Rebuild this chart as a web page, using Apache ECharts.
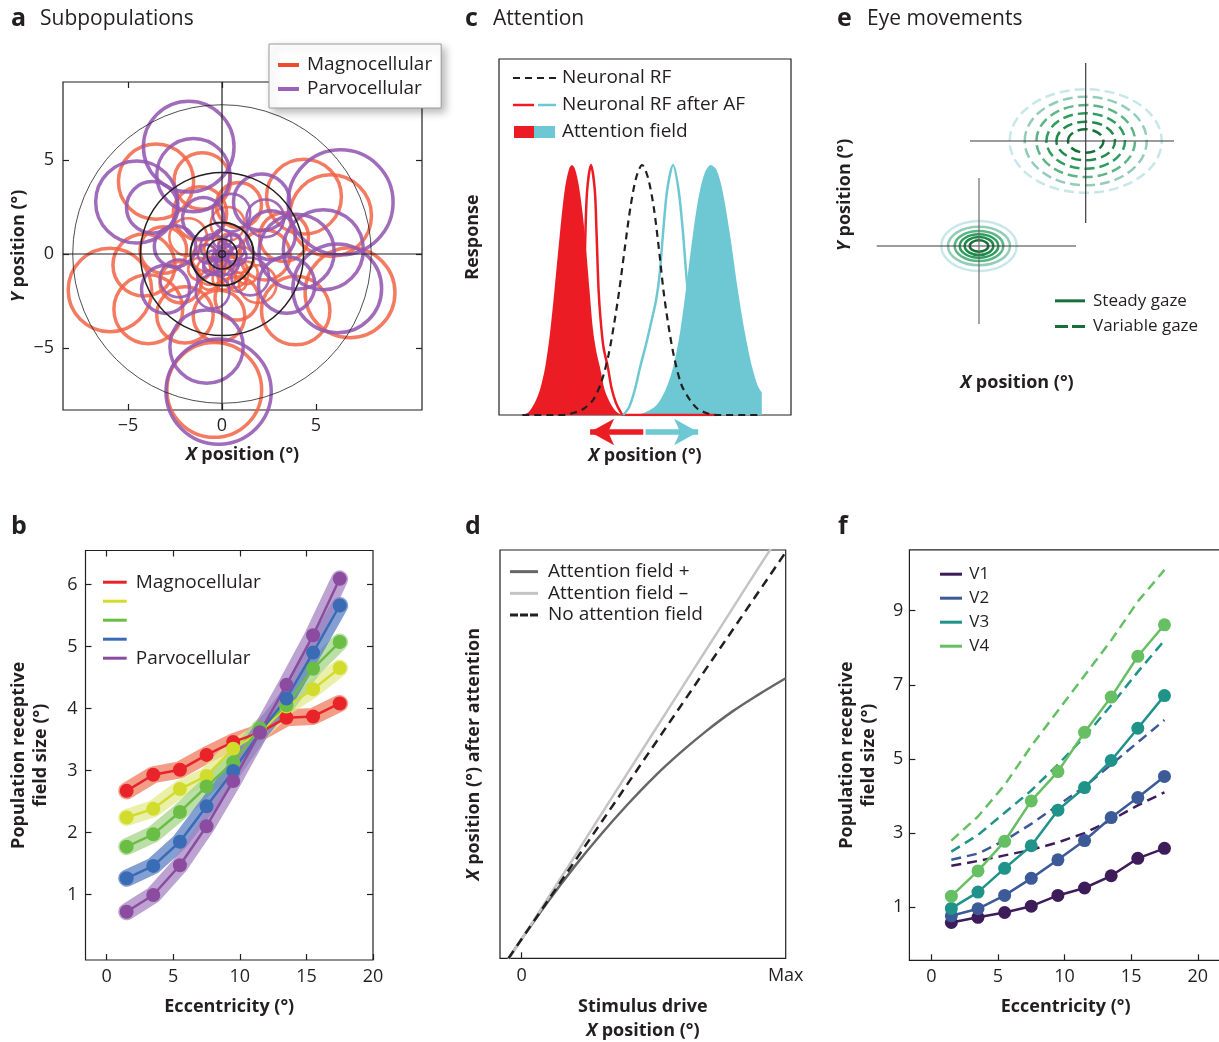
<!DOCTYPE html>
<html><head><meta charset="utf-8">
<script src="https://cdn.jsdelivr.net/npm/echarts@6.0.0/dist/echarts.min.js"></script>
<style>html,body{margin:0;padding:0;background:#fff}#chart{width:1219px;height:1042px}</style>
</head><body><div id="chart"></div>
<script>
// ================= DATA =================
// Panel a: receptive fields [x (deg), y (deg), radius (deg)]
const magnoCircles = [
  [-5.96,-1.91,2.22],[-3.92,-2.94,1.83],[-3.51,3.85,2.0],[-4.15,-0.59,1.65],[-1.05,3.88,1.5],
  [4.36,3.05,1.99],[5.78,2.04,2.17],[6.81,-2.06,2.39],[3.92,-3.01,1.82],[-0.41,-7.23,2.52],
  [-1.97,-3.24,1.5],[-0.16,-3.3,1.37],[0.78,-2.36,1.15],[-1.17,2.16,1.42],[2.29,-0.05,1.33],
  [-3.12,0.21,1.24],[3.3,0.9,1.3],[0.9,2.6,1.2],[-2.2,-1.5,1.1],[1.9,-1.6,1.0],[-1.8,0.9,1.0],
  [0.3,1.6,0.9],[0.6,-1.0,0.8],[-0.6,-0.9,0.75],[1.0,-0.3,0.7],[-0.9,-0.2,0.7],[0.1,-1.3,0.6],
  [0.4,0.5,0.6],[-0.4,0.3,0.55],[0.8,-1.5,0.5],[-0.2,-0.6,0.45],[0.3,-0.4,0.4],[-0.7,-1.4,0.5],
  [1.3,-1.0,0.6],[0.0,0.0,0.35],[-1.2,-0.8,0.6]
];
const parvoCircles = [
  [-1.77,5.71,2.41],[-4.54,2.77,2.18],[-3.71,2.48,1.37],[-1.52,4.2,1.95],[6.31,2.75,2.79],
  [5.39,0.23,2.13],[6.13,-1.83,2.36],[3.44,-1.65,1.5],[-0.18,-7.32,2.8],[-0.82,-4.93,1.95],
  [-3.0,-1.88,1.28],[-2.3,-1.3,1.0],[2.11,2.75,1.5],[3.97,0.12,2.0],[2.6,1.0,1.3],[-2.5,0.4,1.1],
  [0.5,2.2,1.0],[-1.0,1.9,1.1],[1.5,-1.2,1.0],[-0.5,-2.0,0.9],[2.3,1.9,1.0],
  [0.5,0.3,0.7],[-0.5,0.4,0.65],[0.3,-0.5,0.6],[-0.4,-0.4,0.6],[0.8,-0.1,0.5],[-0.8,0.0,0.5],
  [0.0,0.8,0.5],[0.0,-0.7,0.45],[0.2,0.2,0.35],[-0.2,-0.1,0.3],[0.6,0.7,0.4],[-0.6,-0.7,0.4]
];
const eccRings = [0.18, 0.8, 1.68, 4.34, 7.94];
const aTicks = [-5, 0, 5];

// Panel b / f: eccentricity bins
const eccentricity = [1.5, 3.5, 5.5, 7.5, 9.5, 11.5, 13.5, 15.5, 17.5];
const bMagno = [2.67, 2.93, 3.01, 3.25, 3.46, 3.61, 3.85, 3.87, 4.08];
const bMix1  = [2.24, 2.38, 2.70, 2.91, 3.35, 3.61, 4.03, 4.31, 4.65];
const bMix2  = [1.77, 1.97, 2.33, 2.74, 3.13, 3.68, 4.05, 4.64, 5.07];
const bMix3  = [1.26, 1.46, 1.85, 2.42, 2.99, 3.61, 4.16, 4.90, 5.66];
const bParvo = [0.72, 0.99, 1.47, 2.10, 2.83, 3.61, 4.38, 5.18, 6.09];
const bXTicks = [0, 5, 10, 15, 20];
const bYTicks = [1, 2, 3, 4, 5, 6];

const fV1 = [0.59, 0.73, 0.86, 1.03, 1.32, 1.52, 1.85, 2.32, 2.59];
const fV2 = [0.77, 0.96, 1.32, 1.78, 2.28, 2.80, 3.42, 3.96, 4.53];
const fV3 = [0.97, 1.41, 2.05, 2.66, 3.62, 4.23, 4.96, 5.83, 6.71];
const fV4 = [1.30, 1.98, 2.78, 3.87, 4.66, 5.72, 6.67, 7.77, 8.62];
const fV1var = [2.12, 2.25, 2.40, 2.55, 2.75, 3.00, 3.35, 3.75, 4.10];
const fV2var = [2.28, 2.45, 2.80, 3.25, 3.75, 4.25, 4.85, 5.45, 6.05];
const fV3var = [2.50, 2.95, 3.55, 4.15, 4.85, 5.60, 6.45, 7.35, 8.20];
const fV4var = [2.80, 3.45, 4.30, 5.35, 6.30, 7.25, 8.20, 9.25, 10.10];
const fYTicks = [1, 3, 5, 7, 9];

// Panel c: response profiles [x position (a.u.), response]
const cRedField = [[7.5,0],[10,0.01],[12.3,0.05],[14,0.1],[15.8,0.19],[17.5,0.33],[19,0.5],[20.9,0.73],[22.5,0.9],[24,0.985],[25,1.0],[26,0.985],[27.3,0.92],[28.7,0.8],[30,0.64],[31,0.5],[32.2,0.34],[33.4,0.25],[34.6,0.19],[36.2,0.1],[38,0.05],[40,0.015],[42,0]];
const cCyanField = [[46,0],[50,0.01],[54,0.04],[57,0.1],[59.6,0.19],[62,0.33],[64,0.5],[66.5,0.73],[68.5,0.88],[70.5,0.97],[72.5,1.0],[74.5,0.98],[76.5,0.9],[79,0.73],[81.8,0.5],[84.2,0.33],[86.5,0.2],[88.5,0.12],[90,0.09]];
const cRedRF = [[20,0],[23,0.02],[25,0.06],[26.5,0.12],[27.5,0.22],[28.3,0.34],[29.1,0.5],[29.6,0.73],[30.2,0.9],[31.5,1.0],[32.8,0.9],[33.4,0.73],[34.1,0.5],[34.8,0.38],[35.8,0.27],[37.3,0.19],[38.5,0.11],[40,0.05],[41.5,0.015],[42.5,0],[75,0]];
const cCyanRF = [[42.5,0],[44.5,0.03],[46.5,0.1],[48.3,0.19],[50.3,0.28],[52.3,0.38],[53.8,0.46],[55,0.56],[56.2,0.73],[57.6,0.9],[59.6,1.0],[61.5,0.9],[63,0.73],[64.3,0.54],[65.5,0.42],[67,0.3],[69,0.18],[71.5,0.08],[74,0.02],[76,0]];
const cNeuronalRF = [[8,0],[22,0],[26,0.01],[29,0.025],[32.2,0.06],[35,0.13],[37.5,0.24],[39.5,0.37],[41.2,0.5],[43,0.66],[45,0.83],[47,0.95],[49,1.0],[51,0.95],[53,0.83],[55,0.64],[56.3,0.5],[58,0.36],[60,0.23],[62.5,0.12],[65.4,0.06],[68,0.025],[71,0.008],[74,0],[90,0]];
// attention-shift arrows (same x units as panel c)
const cShiftLeft = [[49.4, 0.5], [31.2, 0.5]];
const cShiftRight = [[50.2, 0.5], [68.2, 0.5]];

// Panel d: stimulus drive (0..Max=100) -> position after attention
const dAttnPlus  = [[-5,-5.1],[0,0],[10,9.7],[20,18.7],[30,27.0],[40,34.7],[50,41.8],[60,48.1],[70,53.8],[80,58.9],[90,63.3],[100,67.4]];
const dAttnMinus = [[-5,-5.2],[0,0],[10,10.6],[20,21.3],[30,32.1],[40,42.8],[50,53.5],[60,64.2],[70,74.9],[80,85.6],[90,96.3],[94.5,101]];
const dNoAttn    = [[-5,-5],[100,100]];

// Panel e: gaze distributions (schematic units)
const eSteadyCenter = [11.7, 8.9];
const eVariableCenter = [22.37, 19.4];
const eSteadyRings = [[0.93,0.57],[1.43,0.9],[1.93,1.17],[2.43,1.5],[3.1,1.93],[3.77,2.5]];
const eVariableRings = [[1.77,1.17],[2.93,1.93],[3.93,2.77],[4.93,3.6],[6.1,4.43],[7.6,5.17]];
const eSteadyCrossH = [[1.47,8.9],[21.4,8.9]];
const eSteadyCrossV = [[11.7,15.7],[11.7,1.1]];
const eVariableCrossH = [[10.8,19.4],[33.97,19.4]];
const eVariableCrossV = [[22.37,27.2],[22.37,11.2]];

// ================= STYLE =================
const FONT = '"Open Sans", "Noto Sans", sans-serif';
const INK = '#231F20';
const MAGNO_A = 'rgba(241,100,70,0.85)';
const PARVO_A = 'rgba(148,88,176,0.88)';
const ringWidths = [1.3, 1.6, 2.0, 1.5, 0.8];
const eRingColors = ['#17703A','#1F8A4A','#2E9E5E','#5DB586','#93CDB8','#C8E7E9'];
const RED = '#EC1C24', CYAN = '#6DC8D3';

const pairs = (ys) => eccentricity.map((x, i) => [x, ys[i]]);
const minusFmt = v => (v < 0 ? '\u2212' + Math.abs(v) : String(v));
const mkName = (lh) => ({
  fontFamily: FONT, fontSize: 18, fontWeight: 'bold', color: INK, lineHeight: lh,
  rich: { i: { fontFamily: FONT, fontSize: 18, fontWeight: 'bold', fontStyle: 'italic', color: INK, lineHeight: lh } }
});
const nameStyle = mkName(22);
function ax(o) {
  return Object.assign({
    type: 'value', nameLocation: 'middle', nameTextStyle: nameStyle,
    axisLine: { show: false, onZero: false }, splitLine: { show: false },
    axisTick: { show: false }, axisLabel: { show: false }
  }, o);
}
const ticks = vals => ({ show: true, inside: true, length: 6, customValues: vals, lineStyle: { color: INK, width: 1.2 } });
const labels = (vals, margin, fmt) => ({ show: true, customValues: vals, margin, fontSize: 18, fontFamily: FONT, color: INK, formatter: fmt || minusFmt });

function circleItem(color) {
  return (params, api) => {
    const c = api.coord([api.value(0), api.value(1)]);
    const r = api.size([api.value(2), 0])[0];
    return { type: 'circle', silent: true, shape: { cx: c[0], cy: c[1], r },
      style: { fill: 'none', stroke: color, lineWidth: api.value(2) >= 1.1 ? 3.5 : 2.6 } };
  };
}
function ringItem(params, api) {
  const c = api.coord([api.value(0), api.value(1)]);
  const r = api.size([api.value(2), 0])[0];
  return { type: 'circle', silent: true, shape: { cx: c[0], cy: c[1], r },
    style: { fill: 'none', stroke: INK, lineWidth: ringWidths[params.dataIndex] } };
}
function ellipseItem(dash) {
  return (params, api) => {
    const c = api.coord([api.value(0), api.value(1)]);
    const s = api.size([api.value(2), api.value(3)]);
    return { type: 'ellipse', silent: true, shape: { cx: c[0], cy: c[1], rx: s[0], ry: s[1] },
      style: { fill: 'none', stroke: eRingColors[api.value(4)], lineWidth: 2.5, lineDash: dash } };
  };
}
const ringData = (center, rings) => rings.map((r, i) => [center[0], center[1], r[0], r[1], i]).reverse();

const gridBox = { show: true, borderColor: INK, borderWidth: 1.2, backgroundColor: 'transparent', outerBoundsMode: 'none', containLabel: false };

const xAxis = [
  ax({ gridIndex: 0, min: -8.457, max: 10.638, position: 'bottom', axisTick: ticks(aTicks), axisLabel: labels(aTicks, 7), name: '{i|X} position (°)', nameGap: 34 }),
  ax({ gridIndex: 0, min: -8.457, max: 10.638, position: 'top', axisTick: ticks(aTicks) }),
  ax({ gridIndex: 1, min: -1.59, max: 20, position: 'bottom', axisTick: ticks(bXTicks), axisLabel: labels(bXTicks, 8), name: 'Eccentricity (°)', nameGap: 36 }),
  ax({ gridIndex: 1, min: -1.59, max: 20, position: 'top', axisTick: ticks([0, 5, 10, 15]) }),
  ax({ gridIndex: 2, min: 0, max: 100, name: '{i|X} position (°)', nameGap: 30 }),
  ax({ gridIndex: 3, min: -8.22, max: 100, position: 'bottom', axisTick: ticks([0]), axisLabel: labels([0, 100], 9, v => (v === 100 ? 'Max' : String(v))), name: 'Stimulus drive\n{i|X} position (°)', nameGap: 37, nameTextStyle: mkName(23.6) }),
  ax({ gridIndex: 4, min: 0, max: 31, name: '{i|X} position (°)', nameGap: 37 }),
  ax({ gridIndex: 5, min: -1.65, max: 21.82, position: 'bottom', axisTick: ticks(bXTicks), axisLabel: labels(bXTicks, 8), name: 'Eccentricity (°)', nameGap: 36 }),
  ax({ gridIndex: 6, min: 0, max: 100 })
];
const yAxis = [
  ax({ gridIndex: 0, min: -8.298, max: 9.149, position: 'left', axisTick: ticks(aTicks), axisLabel: labels(aTicks, 9), name: '{i|Y} position (°)', nameGap: 31 }),
  ax({ gridIndex: 0, min: -8.298, max: 9.149, position: 'right', axisTick: ticks(aTicks) }),
  ax({ gridIndex: 1, min: -0.058, max: 6.547, position: 'left', axisTick: ticks(bYTicks), axisLabel: labels(bYTicks, 8), name: 'Population receptive\nfield size (°)', nameGap: 34 }),
  ax({ gridIndex: 1, min: -0.058, max: 6.547, position: 'right', axisTick: ticks(bYTicks) }),
  ax({ gridIndex: 2, min: 0, max: 1.424, name: 'Response', nameGap: 15 }),
  ax({ gridIndex: 3, min: -5, max: 100.56, name: '{i|X} position (°) after attention', nameGap: 15 }),
  ax({ gridIndex: 4, min: 0, max: 28, name: '{i|Y} position (°)', nameGap: 6 }),
  ax({ gridIndex: 5, min: -0.43, max: 10.64, position: 'left', axisTick: ticks(fYTicks), axisLabel: labels(fYTicks, 6), name: 'Population receptive\nfield size (°)', nameGap: 30 }),
  ax({ gridIndex: 6, min: 0, max: 1 })
];

const series = [];
// ---- a ----
series.push({ type: 'custom', name: 'a:Magnocellular', xAxisIndex: 0, yAxisIndex: 0, data: magnoCircles, encode: { x: 0, y: 1 }, renderItem: circleItem(MAGNO_A), itemStyle: { color: '#EF4B2F' }, clip: false, silent: true, z: 2 });
series.push({ type: 'custom', name: 'a:Parvocellular', xAxisIndex: 0, yAxisIndex: 0, data: parvoCircles, encode: { x: 0, y: 1 }, renderItem: circleItem(PARVO_A), itemStyle: { color: '#9B62B8' }, clip: false, silent: true, z: 2 });
series.push({ type: 'custom', name: 'a:rings', xAxisIndex: 0, yAxisIndex: 0, data: eccRings.map(r => [0, 0, r]), encode: { x: 0, y: 1 }, renderItem: ringItem, clip: false, silent: true, z: 3 });
series.push({ type: 'line', xAxisIndex: 0, yAxisIndex: 0, data: [[0, -8.298], [0, 9.149]], symbol: 'none', lineStyle: { color: INK, width: 1.2 }, silent: true, z: 3 });
series.push({ type: 'line', xAxisIndex: 0, yAxisIndex: 0, data: [[-8.457, 0], [10.638, 0]], symbol: 'none', lineStyle: { color: INK, width: 1.2 }, silent: true, z: 3 });

// ---- b ----
const bGroups = [
  { name: 'b:Magnocellular', ys: bMagno, color: '#E8232A', band: '#EF7B5E' },
  { name: 'b:2', ys: bMix1, color: '#D2DC2C', band: '#E3E98E' },
  { name: 'b:3', ys: bMix2, color: '#6BBE45', band: '#A6D48A' },
  { name: 'b:4', ys: bMix3, color: '#3A6BB5', band: '#5B7FC3' },
  { name: 'b:Parvocellular', ys: bParvo, color: '#8B4CA0', band: '#A584C2' }
];
bGroups.forEach(g => series.push({ type: 'line', xAxisIndex: 2, yAxisIndex: 2, data: pairs(g.ys), symbol: 'none', lineStyle: { color: g.band, width: 17, opacity: 0.75, cap: 'round', join: 'round' }, silent: true, z: 2 }));
bGroups.forEach(g => series.push({ type: 'line', name: g.name, xAxisIndex: 2, yAxisIndex: 2, data: pairs(g.ys), symbol: 'circle', symbolSize: 14, itemStyle: { color: g.color }, lineStyle: { color: g.color, width: 2.5 }, silent: true, z: 3 }));

// ---- c ----
series.push({ type: 'line', xAxisIndex: 4, yAxisIndex: 4, data: cRedField, symbol: 'none', smooth: 0.3, lineStyle: { width: 0 }, areaStyle: { color: RED, opacity: 1 }, silent: true, z: 2 });
series.push({ type: 'line', xAxisIndex: 4, yAxisIndex: 4, data: cCyanField, symbol: 'none', smooth: 0.3, lineStyle: { width: 0 }, areaStyle: { color: CYAN, opacity: 1 }, silent: true, z: 2 });
series.push({ type: 'line', xAxisIndex: 4, yAxisIndex: 4, data: cRedRF, symbol: 'none', smooth: 0.3, lineStyle: { color: RED, width: 2.5 }, silent: true, z: 3 });
series.push({ type: 'line', xAxisIndex: 4, yAxisIndex: 4, data: cCyanRF, symbol: 'none', smooth: 0.3, lineStyle: { color: CYAN, width: 2.5 }, silent: true, z: 3 });
series.push({ type: 'line', xAxisIndex: 4, yAxisIndex: 4, data: cNeuronalRF, symbol: 'none', smooth: 0.3, lineStyle: { color: INK, width: 2.2, type: [7, 5] }, silent: true, z: 4 });
// arrows under panel c
series.push({ type: 'line', xAxisIndex: 8, yAxisIndex: 8, data: [], symbol: 'none', silent: true, clip: false,
  markLine: { silent: true, symbol: ['none', 'arrow'], symbolSize: [20, 24], label: { show: false }, animation: false,
    data: [
      [{ coord: cShiftLeft[0], lineStyle: { color: RED, width: 5.5, type: 'solid' }, itemStyle: { color: RED } }, { coord: cShiftLeft[1] }],
      [{ coord: cShiftRight[0], lineStyle: { color: CYAN, width: 5.5, type: 'solid' }, itemStyle: { color: CYAN } }, { coord: cShiftRight[1] }]
    ] } });

// ---- d ----
series.push({ type: 'line', name: 'd:Attention field +', xAxisIndex: 5, yAxisIndex: 5, data: dAttnPlus, symbol: 'none', smooth: 0.4, itemStyle: { color: '#666666' }, lineStyle: { color: '#666666', width: 2.5 }, silent: true, z: 2 });
series.push({ type: 'line', name: 'd:Attention field –', xAxisIndex: 5, yAxisIndex: 5, data: dAttnMinus, symbol: 'none', smooth: 0.4, itemStyle: { color: '#C4C4C4' }, lineStyle: { color: '#C4C4C4', width: 2.5 }, silent: true, z: 2 });
series.push({ type: 'line', name: 'd:No attention field', xAxisIndex: 5, yAxisIndex: 5, data: dNoAttn, symbol: 'none', itemStyle: { color: INK }, lineStyle: { color: INK, width: 2.5, type: [9, 6] }, silent: true, z: 3 });

// ---- e ----
series.push({ type: 'custom', name: 'e:Variable gaze', xAxisIndex: 6, yAxisIndex: 6, data: ringData(eVariableCenter, eVariableRings), encode: { x: 0, y: 1 }, renderItem: ellipseItem([10, 5]), itemStyle: { color: '#17703A' }, clip: false, silent: true, z: 2 });
series.push({ type: 'custom', name: 'e:Steady gaze', xAxisIndex: 6, yAxisIndex: 6, data: ringData(eSteadyCenter, eSteadyRings), encode: { x: 0, y: 1 }, renderItem: ellipseItem(null), itemStyle: { color: '#17703A' }, clip: false, silent: true, z: 2 });
[eSteadyCrossH, eSteadyCrossV, eVariableCrossH, eVariableCrossV].forEach((d, i) =>
  series.push({ type: 'line', xAxisIndex: 6, yAxisIndex: 6, data: d, symbol: 'none', clip: false, lineStyle: { color: i === 1 ? '#6a6a6a' : '#3a3a3a', width: 1.2 }, silent: true, z: 3 }));

// ---- f ----
const fGroups = [
  { name: 'f:V1', ys: fV1, vs: fV1var, color: '#3E1C5A' },
  { name: 'f:V2', ys: fV2, vs: fV2var, color: '#3D5A98' },
  { name: 'f:V3', ys: fV3, vs: fV3var, color: '#1F928A' },
  { name: 'f:V4', ys: fV4, vs: fV4var, color: '#66BF63' }
];
fGroups.forEach(g => series.push({ type: 'line', xAxisIndex: 7, yAxisIndex: 7, data: pairs(g.vs), symbol: 'none', lineStyle: { color: g.color, width: 2.5, type: [10, 6] }, silent: true, z: 2 }));
fGroups.forEach(g => series.push({ type: 'line', name: g.name, xAxisIndex: 7, yAxisIndex: 7, data: pairs(g.ys), symbol: 'circle', symbolSize: 13, itemStyle: { color: g.color }, lineStyle: { color: g.color, width: 2.5 }, silent: true, z: 3 }));

// ---- legends ----
const stripName = n => { const s = n.slice(2); return /^\d$/.test(s) ? '\u00a0' : s; };
const dash3 = 'path://M0,0H8V3H0Z M10,0H18V3H10Z M20,0H28V3H20Z';
const dash2 = 'path://M0,0H13V3H0Z M17,0H30V3H17Z';
function legend(o, names, icons) {
  return Object.assign({
    orient: 'vertical', selectedMode: false, padding: 0, itemGap: 0, formatter: stripName,
    itemStyle: { borderWidth: 0 },
    data: names.map((n, i) => ({ name: n, icon: (icons && icons[i]) || 'rect' }))
  }, o);
}
const legendText = (size, lh, padLeft) => ({ fontFamily: FONT, fontSize: size, lineHeight: lh, color: INK, padding: [0, 0, 0, padLeft] });
const legends = [
  legend({ left: 269, top: 44, padding: [11, 9, 9, 9], itemGap: 4, itemWidth: 21, itemHeight: 4,
    backgroundColor: '#fff', borderColor: '#9a9a9a', borderWidth: 1, shadowBlur: 8, shadowColor: 'rgba(0,0,0,0.28)', shadowOffsetX: 4, shadowOffsetY: 4,
    textStyle: legendText(19, 20, 3) }, ['a:Magnocellular', 'a:Parvocellular']),
  legend({ left: 103, top: 572.7, itemWidth: 23.7, itemHeight: 3, textStyle: legendText(19, 14.6, 4) }, bGroups.map(g => g.name)),
  legend({ left: 510, top: 560.8, itemWidth: 28, itemHeight: 3, textStyle: legendText(19, 21.7, 5) }, ['d:Attention field +', 'd:Attention field –', 'd:No attention field'], ['rect', 'rect', dash3]),
  legend({ left: 1055, top: 288, itemWidth: 30, itemHeight: 3, textStyle: legendText(17, 25.7, 3) }, ['e:Steady gaze', 'e:Variable gaze'], ['rect', dash2]),
  legend({ left: 940, top: 562.2, itemWidth: 22, itemHeight: 3, textStyle: legendText(17, 24, 2.3) }, fGroups.map(g => g.name))
];

// ---- titles and panel c key ----
const T = (text, x, y, size, weight) => ({ type: 'text', x, y, silent: true,
  style: { text, fontSize: size, fontWeight: weight, fontFamily: FONT, fill: INK, verticalAlign: 'middle', textVerticalAlign: 'middle' } });
const L = (x1, y1, x2, y2, stroke, w, dash) => ({ type: 'line', silent: true, shape: { x1, y1, x2, y2 }, style: { stroke, lineWidth: w, lineDash: dash || null } });
const graphic = [
  T('a', 11, 19, 25, 'bold'), T('Subpopulations', 40, 19, 21, 'normal'),
  T('c', 465, 19, 25, 'bold'), T('Attention', 493, 19, 21, 'normal'),
  T('e', 837, 19, 25, 'bold'), T('Eye movements', 867, 19, 21, 'normal'),
  T('b', 11, 527, 25, 'bold'), T('d', 465, 527, 25, 'bold'), T('f', 838, 527, 25, 'bold'),
  L(513, 78, 557, 78, INK, 2.2, [7, 5]),
  L(513, 105, 534, 105, RED, 2.5), L(538, 105, 556, 105, CYAN, 2.5),
  { type: 'rect', silent: true, shape: { x: 514, y: 126, width: 20, height: 12 }, style: { fill: RED } },
  { type: 'rect', silent: true, shape: { x: 534, y: 126, width: 21, height: 12 }, style: { fill: CYAN } },
  T('Neuronal RF', 562, 78, 19, 'normal'), T('Neuronal RF after AF', 562, 105, 19, 'normal'), T('Attention field', 562, 132, 19, 'normal')
];

const option = {
  animation: false,
  backgroundColor: '#ffffff',
  textStyle: { fontFamily: FONT },
  grid: [
    Object.assign({ left: 63, top: 82, width: 359, height: 328 }, gridBox),
    Object.assign({ left: 85.5, top: 550.5, width: 287.5, height: 409.5 }, gridBox),
    Object.assign({ left: 499, top: 59, width: 292, height: 356 }, gridBox),
    Object.assign({ left: 500, top: 550, width: 285.7, height: 408.3 }, gridBox),
    Object.assign({ left: 862, top: 55, width: 310, height: 280 }, gridBox, { show: false }),
    Object.assign({ left: 909.4, top: 549.9, width: 312.6, height: 410.4 }, gridBox),
    Object.assign({ left: 499, top: 420, width: 292, height: 24 }, gridBox, { show: false })
  ],
  xAxis, yAxis, series, legend: legends, graphic
};
const chart = echarts.init(document.getElementById('chart'), null, { renderer: 'canvas' });
chart.setOption(option);
</script></body></html>
